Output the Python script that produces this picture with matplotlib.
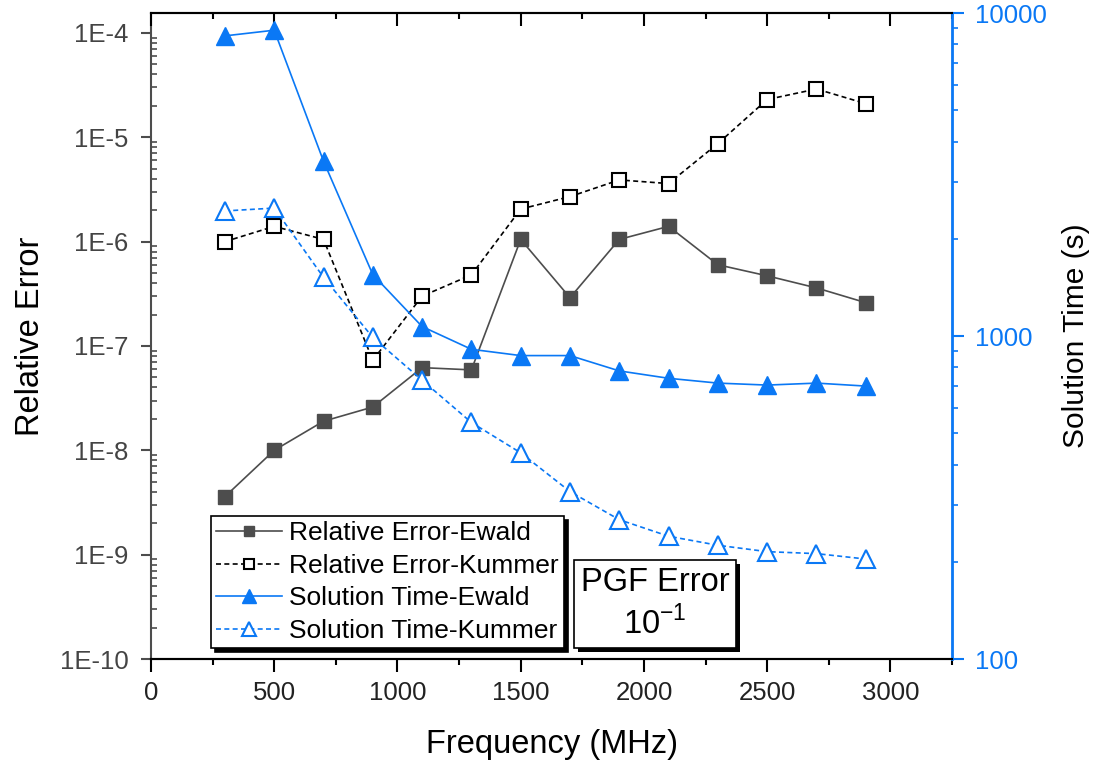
import matplotlib.pyplot as plt
import matplotlib.patheffects as pe
import numpy as np
from matplotlib.ticker import FuncFormatter, LogLocator, MultipleLocator, NullFormatter

plt.rcParams["font.family"] = ["Liberation Sans", "DejaVu Sans"]
plt.rcParams["mathtext.fontset"] = "custom"
plt.rcParams["mathtext.rm"] = "Liberation Sans"

freq = [300, 500, 700, 900, 1100, 1300, 1500, 1700, 1900, 2100, 2300, 2500, 2700, 2900]
err_ewald = [3.6e-9, 1.0e-8, 1.9e-8, 2.6e-8, 6.2e-8, 5.9e-8, 1.05e-6, 2.9e-7,
             1.05e-6, 1.4e-6, 6.0e-7, 4.7e-7, 3.6e-7, 2.6e-7]
err_kummer = [1.0e-6, 1.4e-6, 1.05e-6, 7.3e-8, 3.0e-7, 4.8e-7, 2.05e-6, 2.7e-6,
              3.9e-6, 3.6e-6, 8.7e-6, 2.3e-5, 2.9e-5, 2.1e-5]
time_ewald = [8500, 8850, 3480, 1550, 1070, 910, 870, 870, 780, 740, 715, 705, 715, 700]
time_kummer = [2440, 2490, 1520, 990, 730, 540, 435, 330, 270, 240, 225, 215, 212, 204]

gray = "#4d4d4d"
blue = "#0a78f5"

fig = plt.figure(figsize=(11.06, 7.69), dpi=100)
ax = fig.add_axes([0.1365, 0.143, 0.7243, 0.840])
ax2 = ax.twinx()

l1, = ax.plot(freq, err_ewald, "-", color=gray, lw=1.2, marker="s", ms=9.5,
              mfc=gray, mec=gray, label="Relative Error-Ewald")
l2, = ax.plot(freq, err_kummer, color="black", lw=1.2, ls=(0, (3, 2)), marker="s", ms=9.5,
              mfc="white", mec="black", mew=1.5, label="Relative Error-Kummer")
l3, = ax2.plot(freq, time_ewald, "-", color=blue, lw=1.2, marker="^", ms=12.5,
               mfc=blue, mec=blue, label="Solution Time-Ewald")
l4, = ax2.plot(freq, time_kummer, color=blue, lw=1.2, ls=(0, (3, 2)), marker="^", ms=12.5,
               mfc="white", mec=blue, mew=1.5, label="Solution Time-Kummer")

ax.set_xlim(0, 3250)
ax.set_yscale("log")
ax.set_ylim(1e-10, 10 ** -3.81)
ax2.set_yscale("log")
ax2.set_ylim(100, 10000)

ax.xaxis.set_major_locator(MultipleLocator(500))
ax.xaxis.set_minor_locator(MultipleLocator(250))
ax.yaxis.set_major_locator(LogLocator(base=10, numticks=20))
ax.yaxis.set_minor_locator(LogLocator(base=10, subs=np.arange(2, 10), numticks=20))
ax.yaxis.set_major_formatter(FuncFormatter(lambda v, p: f"1E{int(round(np.log10(v)))}"))
ax.yaxis.set_minor_formatter(NullFormatter())
ax2.yaxis.set_major_formatter(FuncFormatter(lambda v, p: f"{int(round(v))}"))
ax2.yaxis.set_minor_formatter(NullFormatter())

ax.tick_params(axis="x", which="major", direction="out", length=9, width=1.5,
               labelsize=18.5, top=False, colors="black", labelcolor="#222222", pad=7)
ax.tick_params(axis="x", which="minor", direction="out", length=4.5, width=1.5, top=False)
ax.tick_params(axis="y", which="major", direction="out", length=7, width=1.5,
               labelsize=18.5, color=gray, labelcolor="#444444", pad=9)
ax.tick_params(axis="y", which="minor", direction="in", length=4.5, width=1.2, color=gray)
ax2.tick_params(axis="y", which="major", direction="out", length=8.5, width=1.5,
                labelsize=18.5, color=blue, labelcolor=blue, pad=8)
ax2.tick_params(axis="y", which="minor", direction="out", length=4.5, width=1.2, color=blue)

# top ticks point inward
ax2.xaxis.set_visible(True)
ax2.tick_params(axis="x", which="both", bottom=False, labelbottom=False, top=True,
                direction="in", width=1.5)
ax2.tick_params(axis="x", which="major", length=9)
ax2.tick_params(axis="x", which="minor", length=4.5)

for s in ["top", "bottom"]:
    ax.spines[s].set_linewidth(1.5)
    ax2.spines[s].set_linewidth(1.5)
ax.spines["left"].set_color(gray)
ax.spines["left"].set_linewidth(1.5)
ax2.spines["left"].set_visible(False)
ax2.spines["right"].set_color(blue)
ax2.spines["right"].set_linewidth(2)

ax.set_xlabel("Frequency (MHz)", fontsize=23.5, labelpad=17)
ax.set_ylabel("Relative Error", fontsize=23.5, labelpad=10)
ax2.set_ylabel("Solution Time (s)", fontsize=21.5, labelpad=11)

leg = ax2.legend(handles=[l1, l2, l3, l4], loc="lower left",
                 bbox_to_anchor=(0.075, 0.017), fontsize=19, fancybox=False,
                 framealpha=1, edgecolor="black", handlelength=2.5,
                 borderpad=0.2, labelspacing=0.32, handletextpad=0.25,
                 borderaxespad=0, markerscale=0.8,
                 shadow={"color": "black", "alpha": 1, "ox": 3, "oy": -3})
leg.get_frame().set_linewidth(1.2)

t = ax2.text(0.629, 0.085, "PGF Error\n10$^{\\mathregular{-1}}$", transform=ax2.transAxes,
             fontsize=23.5, ha="center", va="center", linespacing=1.3, zorder=6,
             bbox=dict(boxstyle="square,pad=0.2", fc="white", ec="black", lw=1.2))
t.get_bbox_patch().set_path_effects([pe.SimplePatchShadow(offset=(3, -3), shadow_rgbFace="black", alpha=1), pe.Normal()])

fig.savefig("out.png", dpi=100)
